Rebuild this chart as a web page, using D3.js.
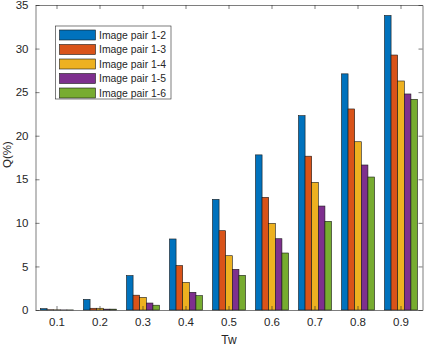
<!DOCTYPE html>
<html>
<head>
<meta charset="utf-8">
<script src="https://cdn.jsdelivr.net/npm/d3@7"></script>
<style>
  body { margin: 0; background: #fff; }
  text { font-family: "Liberation Sans", Arial, sans-serif; fill: #262626; }
</style>
</head>
<body>
<div id="chart"></div>
<script>
// Data
const categories = ["0.1", "0.2", "0.3", "0.4", "0.5", "0.6", "0.7", "0.8", "0.9"];
const seriesNames = ["Image pair 1-2", "Image pair 1-3", "Image pair 1-4", "Image pair 1-5", "Image pair 1-6"];
const pair12 = [0.15, 1.22, 3.95, 8.15, 12.7, 17.8, 22.3, 27.1, 33.8];
const pair13 = [0.03, 0.2, 1.7, 5.1, 9.1, 12.93, 17.65, 23.07, 29.26];
const pair14 = [0.02, 0.2, 1.45, 3.17, 6.23, 9.94, 14.65, 19.31, 26.28];
const pair15 = [0.01, 0.1, 0.8, 2.03, 4.67, 8.18, 11.93, 16.64, 24.79];
const pair16 = [0.01, 0.1, 0.55, 1.65, 3.98, 6.54, 10.17, 15.26, 24.18];
const yTicks = [0, 5, 10, 15, 20, 25, 30, 35];
const colors = ["#0072BD", "#D95319", "#EDB120", "#7E2F8E", "#77AC30"];

const allSeries = [pair12, pair13, pair14, pair15, pair16];

const width = 425, height = 346;
const margin = { top: 5, right: 2.5, bottom: 36, left: 35.5 };
const axisColor = "#262626";

const svg = d3.select("#chart").append("svg")
    .attr("width", width)
    .attr("height", height);

const x = d3.scaleBand()
    .domain(categories)
    .range([margin.left, width - margin.right])
    .paddingInner(0).paddingOuter(0);

// MATLAB grouped bar width
const groupFrac = Math.min(0.8, seriesNames.length / (seriesNames.length + 1.5));
const xInner = d3.scaleBand()
    .domain(seriesNames)
    .range([0, x.bandwidth() * groupFrac]);

const y = d3.scaleLinear()
    .domain([0, 35])
    .range([height - margin.bottom, margin.top]);

const x0 = margin.left, x1 = width - margin.right;
const y0 = height - margin.bottom, y1 = margin.top;

// bars
const groupOffset = (x.bandwidth() - x.bandwidth() * groupFrac) / 2;
seriesNames.forEach((name, s) => {
    svg.append("g")
        .selectAll("rect")
        .data(allSeries[s])
        .enter()
        .append("rect")
        .attr("x", (d, i) => x(categories[i]) + groupOffset + xInner(name))
        .attr("y", d => y(d))
        .attr("width", xInner.bandwidth())
        .attr("height", d => y(0) - y(d))
        .attr("fill", colors[s])
        .attr("stroke", "#1a1a1a")
        .attr("stroke-width", 0.6);
});

// axes box
const tickLen = 4;
const bottomAxis = d3.axisBottom(x).tickSizeInner(-tickLen).tickSizeOuter(0).tickPadding(8);
const topAxis = d3.axisTop(x).tickSizeInner(-tickLen).tickSizeOuter(0).tickFormat("");
const leftAxis = d3.axisLeft(y).tickValues(yTicks).tickSizeInner(-tickLen).tickSizeOuter(0).tickPadding(7);
const rightAxis = d3.axisRight(y).tickValues(yTicks).tickSizeInner(-tickLen).tickSizeOuter(0).tickFormat("");

function style(g) {
    g.selectAll("path").attr("stroke", axisColor).attr("stroke-width", 0.6);
    g.selectAll("line").attr("stroke", axisColor).attr("stroke-width", 0.6);
    g.selectAll("text").attr("font-size", 11.5).attr("fill", axisColor)
        .style("font-family", "'Liberation Sans', Arial, sans-serif");
}

svg.append("g").attr("transform", `translate(0,${y0})`).call(bottomAxis).call(style);
svg.append("g").attr("transform", `translate(0,${y1})`).call(topAxis).call(style);
svg.append("g").attr("transform", `translate(${x0},0)`).call(leftAxis).call(style);
svg.append("g").attr("transform", `translate(${x1},0)`).call(rightAxis).call(style);

// axis labels
svg.append("text")
    .attr("x", (x0 + x1) / 2)
    .attr("y", 344)
    .attr("text-anchor", "middle")
    .attr("font-size", 12)
    .text("Tw");

svg.append("text")
    .attr("transform", `translate(11,${(y0 + y1) / 2 - 3}) rotate(-90)`)
    .attr("text-anchor", "middle")
    .attr("font-size", 11.5)
    .text("Q(%)");

// legend
const lg = svg.append("g");
lg.append("rect")
    .attr("x", 55.5).attr("y", 26)
    .attr("width", 115.5).attr("height", 73)
    .attr("fill", "#fff")
    .attr("stroke", axisColor)
    .attr("stroke-width", 0.6);

seriesNames.forEach((name, s) => {
    const cy = 35 + s * 14.5;
    lg.append("rect")
        .attr("x", 59.5).attr("y", cy - 5)
        .attr("width", 36).attr("height", 10)
        .attr("fill", colors[s])
        .attr("stroke", "#1a1a1a")
        .attr("stroke-width", 0.6);
    lg.append("text")
        .attr("x", 99)
        .attr("y", cy + 3.7)
        .attr("font-size", 10.4)
        .text(name);
});
</script>
</body>
</html>
